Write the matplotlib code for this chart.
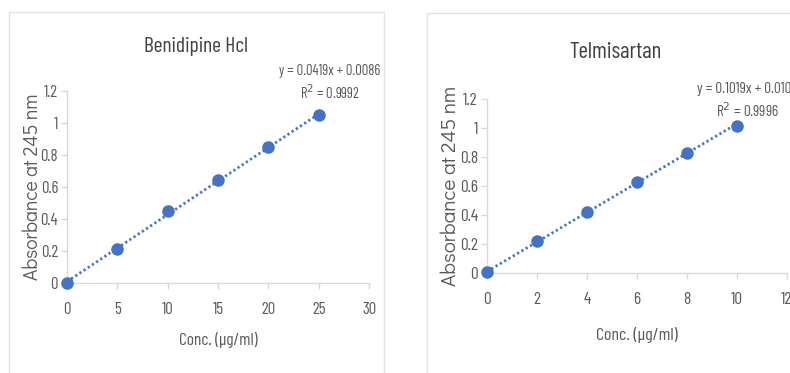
import numpy as np
import matplotlib
matplotlib.use('Agg')
import matplotlib.pyplot as plt
import matplotlib.patches as patches

# Benidipine HCl calibration data
beni_conc = [0, 5, 10, 15, 20, 25]
beni_abs = [0.0, 0.215, 0.447, 0.642, 0.853, 1.047]
beni_slope, beni_icpt, beni_r2 = 0.0419, 0.0086, 0.9992

# Telmisartan calibration data
telm_conc = [0, 2, 4, 6, 8, 10]
telm_abs = [0.005, 0.223, 0.420, 0.625, 0.828, 1.015]
telm_slope, telm_icpt, telm_r2 = 0.1019, 0.0104, 0.9996

W, H = 790, 373
NARROW = ['Barlow Condensed', 'DejaVu Sans']
WIDE = ['Didact Gothic', 'DejaVu Sans']
BLUE = '#4472c4'
TXT = '#595959'
SPINE = '#d9d9d9'

fig = plt.figure(figsize=(W / 100, H / 100), dpi=100)
fig.patch.set_facecolor('white')


def px(x, y):
    return x / W, 1 - y / H


def frame(x0, y0, x1, y1):
    fx, fy = px(x0, y1)
    rect = patches.Rectangle((fx, fy), (x1 - x0) / W, (y1 - y0) / H,
                             transform=fig.transFigure, facecolor='none',
                             edgecolor='#e3e3e3', linewidth=1.0)
    fig.add_artist(rect)


def panel(box, conc, absb, slope, icpt, xmax, xstep, tsize):
    ax = fig.add_axes(box)
    ax.set_xlim(0, xmax)
    ax.set_ylim(0, 1.2)
    ax.set_xticks(np.arange(0, xmax + 0.01, xstep))
    ax.set_yticks(np.arange(0, 1.21, 0.2))
    ax.set_xticklabels([f'{v:g}' for v in ax.get_xticks()])
    ax.set_yticklabels([f'{v:g}' for v in ax.get_yticks()])
    for s in ['top', 'right']:
        ax.spines[s].set_visible(False)
    for s in ['left', 'bottom']:
        ax.spines[s].set_color(SPINE)
        ax.spines[s].set_linewidth(1.0)
    ax.tick_params(colors=SPINE, labelcolor=TXT, length=4.5, width=1.0,
                   labelsize=tsize)
    ax.tick_params(axis='x', pad=9)
    ax.tick_params(axis='y', pad=2)
    for lab in ax.get_xticklabels() + ax.get_yticklabels():
        lab.set_family(NARROW)
    xs = np.array([0, max(conc)])
    ax.plot(xs, slope * xs + icpt, linestyle=(0, (0.8, 1.0)), color=BLUE,
            linewidth=2.0, zorder=2)
    ax.plot(conc, absb, 'o', color=BLUE, markersize=8, zorder=3, clip_on=False)
    ax.patch.set_alpha(0)
    return ax


frame(9, 12, 384, 400)
frame(427, 13, 800, 400)

panel([67 / W, 1 - 283 / H, (369 - 67) / W, (283 - 91) / H],
      beni_conc, beni_abs, beni_slope, beni_icpt, 30, 5, 12)
panel([487 / W, 1 - 273 / H, (787 - 487) / W, (273 - 99) / H],
      telm_conc, telm_abs, telm_slope, telm_icpt, 12, 2, 12.5)

# titles
fig.text(*px(196, 47), 'Benidipine Hcl', ha='center', va='center',
         fontsize=15.5, color='#404040', family=NARROW)
fig.text(*px(615, 52), 'Telmisartan', ha='center', va='center',
         fontsize=16.5, color='#404040', family=NARROW)

# axis labels
fig.text(*px(218, 340), 'Conc. (µg/ml)', ha='center', va='center',
         fontsize=12.5, color=TXT, family=NARROW)
fig.text(*px(637, 335), 'Conc. (µg/ml)', ha='center', va='center',
         fontsize=13, color=TXT, family=NARROW)
fig.text(*px(33, 187), 'Absorbance at 245 nm', ha='center', va='center',
         rotation=90, fontsize=14, color=TXT, family=WIDE)
fig.text(*px(450, 186), 'Absorbance at 245 nm', ha='center', va='center',
         rotation=90, fontsize=15, color=TXT, family=WIDE)

# trendline equations
fig.text(*px(330, 71), f'y = {beni_slope}x + {beni_icpt}', ha='center',
         va='center', fontsize=10.5, color=TXT, family=NARROW)
fig.text(*px(330, 93), f'R$^2$ = {beni_r2}', ha='center', va='center',
         fontsize=10.5, color=TXT, family=NARROW)
fig.text(*px(697, 89), f'y = {telm_slope}x + {telm_icpt}', ha='left',
         va='center', fontsize=11, color=TXT, family=NARROW)
fig.text(*px(747, 111), f'R$^2$ = {telm_r2}', ha='center', va='center',
         fontsize=11, color=TXT, family=NARROW)

fig.savefig('out.png', dpi=100)
